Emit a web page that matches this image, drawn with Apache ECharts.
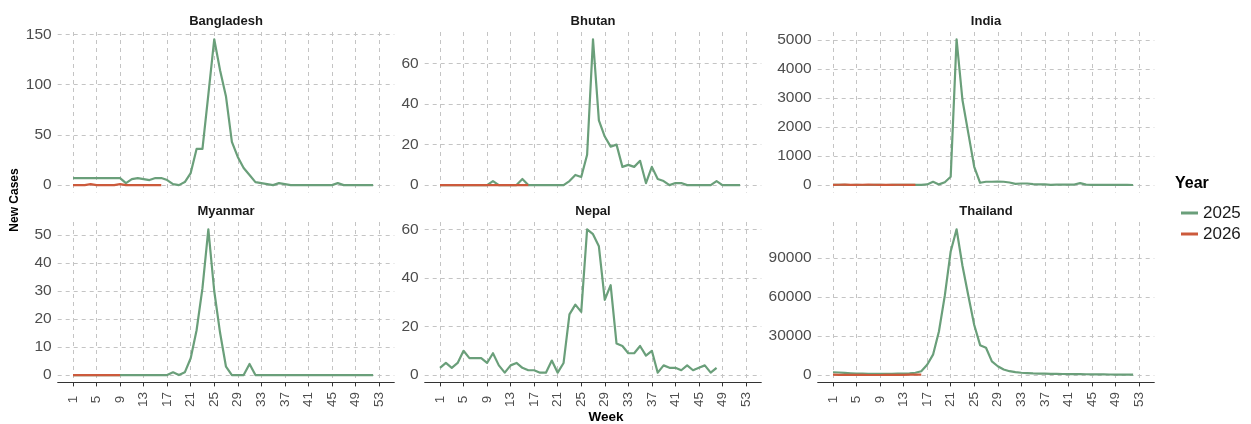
<!DOCTYPE html>
<html>
<head>
<meta charset="utf-8">
<script src="https://cdn.jsdelivr.net/npm/echarts@6/dist/echarts.min.js"></script>
<style>
  html, body { margin: 0; padding: 0; background: #fff; }
  #chart { width: 1251px; height: 424px; }
</style>
</head>
<body>
<div id="chart"></div>
<script>
const chart = echarts.init(document.getElementById('chart'));

const countries = ['Bangladesh', 'Bhutan', 'India', 'Myanmar', 'Nepal', 'Thailand'];
const weekTicks = [1, 5, 9, 13, 17, 21, 25, 29, 33, 37, 41, 45, 49, 53];

// weekly new cases, index 0 = week 1
const bangladesh2025 = [7, 7, 7, 7, 7, 7, 7, 7, 7, 2, 6, 7, 6, 5, 7, 7, 5, 1, 0, 3, 12, 36, 36, 90, 145, 114, 88, 43, 28, 17, 10, 3, 2, 1, 0, 2, 1, 0, 0, 0, 0, 0, 0, 0, 0, 2, 0, 0, 0, 0, 0, 0];
const bangladesh2026 = [0, 0, 0, 1, 0, 0, 0, 0, 1, 0, 0, 0, 0, 0, 0, 0];
const bhutan2025 = [0, 0, 0, 0, 0, 0, 0, 0, 0, 2, 0, 0, 0, 0, 3, 0, 0, 0, 0, 0, 0, 0, 2, 5, 4, 15, 72, 32, 24, 19, 20, 9, 10, 9, 12, 1, 9, 3, 2, 0, 1, 1, 0, 0, 0, 0, 0, 2, 0, 0, 0, 0];
const bhutan2026 = [0, 0, 0, 0, 0, 0, 0, 0, 0, 0, 0, 0, 0, 0, 0, 0];
const india2025 = [8, 6, 5, 4, 5, 3, 4, 5, 6, 4, 5, 7, 6, 8, 10, 10, 25, 115, 25, 100, 290, 5020, 2930, 1780, 630, 80, 115, 115, 125, 115, 90, 45, 55, 55, 35, 25, 25, 10, 20, 15, 15, 20, 70, 15, 10, 8, 10, 6, 8, 5, 6, 4];
const india2026 = [10, 12, 15, 10, 8, 12, 15, 12, 10, 8, 10, 12, 10, 8, 10];
const myanmar2025 = [0, 0, 0, 0, 0, 0, 0, 0, 0, 0, 0, 0, 0, 0, 0, 0, 0, 1, 0, 1, 6, 16, 31, 52, 30, 15, 3, 0, 0, 0, 4, 0, 0, 0, 0, 0, 0, 0, 0, 0, 0, 0, 0, 0, 0, 0, 0, 0, 0, 0, 0, 0];
const myanmar2026 = [0, 0, 0, 0, 0, 0, 0, 0, 0];
const nepal2025 = [3, 5, 3, 5, 10, 7, 7, 7, 5, 9, 4, 1, 4, 5, 3, 2, 2, 1, 1, 6, 1, 5, 25, 29, 26, 60, 58, 53, 31, 37, 13, 12, 9, 9, 12, 8, 10, 1, 4, 3, 3, 2, 4, 2, 3, 4, 1, 3];
const nepal2026 = [];
const thailand2025 = [2200, 2000, 1700, 1400, 1200, 1100, 1000, 900, 900, 900, 1000, 1100, 1200, 1400, 1800, 3000, 8000, 15700, 33500, 61000, 95000, 112000, 84000, 61000, 38500, 23000, 21000, 10500, 6800, 4300, 3000, 2300, 1800, 1500, 1300, 1200, 1100, 1000, 900, 850, 800, 750, 700, 650, 600, 550, 500, 450, 400, 380, 350, 300];
const thailand2026 = [300, 250, 200, 200, 150, 150, 100, 100, 100, 150, 200, 200, 250, 300, 300, 350];

const values2025 = [bangladesh2025, bhutan2025, india2025, myanmar2025, nepal2025, thailand2025];
const values2026 = [bangladesh2026, bhutan2026, india2026, myanmar2026, nepal2026, thailand2026];

// y tick labels per panel
const yTicks = [
  [0, 50, 100, 150],
  [0, 20, 40, 60],
  [0, 1000, 2000, 3000, 4000, 5000],
  [0, 10, 20, 30, 40, 50],
  [0, 20, 40, 60],
  [0, 30000, 60000, 90000]
];

const GREEN = '#6a9f7a';
const RED = '#cc5a3c';
const GRID_COLOR = '#c4c4c4';
const FONT = '"Liberation Sans", Arial, Helvetica, sans-serif';

const colLeft = [57.7, 424.7, 817.7];
const rowTop = [32, 222];
const panelW = 336.6;
const panelH = 160.4;

const toPairs = arr => arr.map((v, i) => [i + 1, v]);

const grids = [], xAxes = [], yAxes = [], series = [], graphics = [];

countries.forEach((name, i) => {
  const col = i % 3, row = Math.floor(i / 3);
  const bottomRow = row === 1;
  grids.push({
    left: colLeft[col], top: rowTop[row], width: panelW, height: panelH,
    containLabel: false, outerBoundsMode: 'none'
  });

  xAxes.push({
    type: 'value', gridIndex: i, min: -1.6, max: 55.6,
    axisLine: { show: bottomRow, onZero: false, lineStyle: { color: '#333', width: 1 } },
    axisTick: { show: bottomRow, customValues: weekTicks, length: 4, lineStyle: { color: '#333' } },
    axisLabel: {
      show: bottomRow, customValues: weekTicks, rotate: 90, align: 'center', verticalAlign: 'middle',
      margin: 17, fontSize: 13.5, color: '#4d4d4d', fontFamily: FONT
    },
    splitLine: { show: true, lineStyle: { color: GRID_COLOR, type: [4, 4], width: 1 } }
  });

  const all = values2025[i].concat(values2026[i]);
  const top = Math.max.apply(null, all);
  yAxes.push({
    type: 'value', gridIndex: i, min: -0.05 * top, max: top * 1.05,
    axisLine: { show: false },
    axisTick: { show: false, customValues: yTicks[i] },
    axisLabel: {
      customValues: yTicks[i], fontSize: 15.5, color: '#4d4d4d', fontFamily: FONT, margin: 6,
      formatter: v => String(v)
    },
    splitLine: { show: true, lineStyle: { color: GRID_COLOR, type: [4, 4], width: 1 } }
  });

  series.push({
    name: '2025', type: 'line', xAxisIndex: i, yAxisIndex: i, showSymbol: false,
    data: toPairs(values2025[i]), color: GREEN,
    lineStyle: { color: GREEN, width: 2.2, join: 'round' }
  });
  series.push({
    name: '2026', type: 'line', xAxisIndex: i, yAxisIndex: i, showSymbol: false,
    data: toPairs(values2026[i]), color: RED,
    lineStyle: { color: RED, width: 2.2, join: 'round' }
  });

  graphics.push({
    type: 'text', x: colLeft[col] + panelW / 2, y: rowTop[row] - 11,
    style: { text: name, align: 'center', verticalAlign: 'middle', fontSize: 13, fontWeight: 'bold', fill: '#1a1a1a', fontFamily: FONT }
  });
});

graphics.push({
  type: 'text', x: 606, y: 417,
  style: { text: 'Week', align: 'center', verticalAlign: 'middle', fontSize: 13.5, fontWeight: 'bold', fill: '#000', fontFamily: FONT }
});
graphics.push({
  type: 'text', x: 15, y: 200, rotation: Math.PI / 2,
  style: { text: 'New Cases', align: 'center', verticalAlign: 'middle', fontSize: 12, fontWeight: 'bold', fill: '#000', fontFamily: FONT }
});
graphics.push({
  type: 'text', x: 1175, y: 184,
  style: { text: 'Year', align: 'left', verticalAlign: 'middle', fontSize: 16, fontWeight: 'bold', fill: '#000', fontFamily: FONT }
});

const option = {
  animation: false,
  backgroundColor: '#fff',
  grid: grids,
  xAxis: xAxes,
  yAxis: yAxes,
  series: series,
  legend: {
    data: ['2025', '2026'],
    orient: 'vertical', left: 1176, top: 199,
    icon: 'rect', itemWidth: 17, itemHeight: 3, itemGap: 3,
    textStyle: { fontSize: 17, color: '#1a1a1a', fontFamily: FONT, lineHeight: 18 }
  },
  graphic: graphics
};

chart.setOption(option);
window.addEventListener('resize', function () { chart.resize(); });
</script>
</body>
</html>
